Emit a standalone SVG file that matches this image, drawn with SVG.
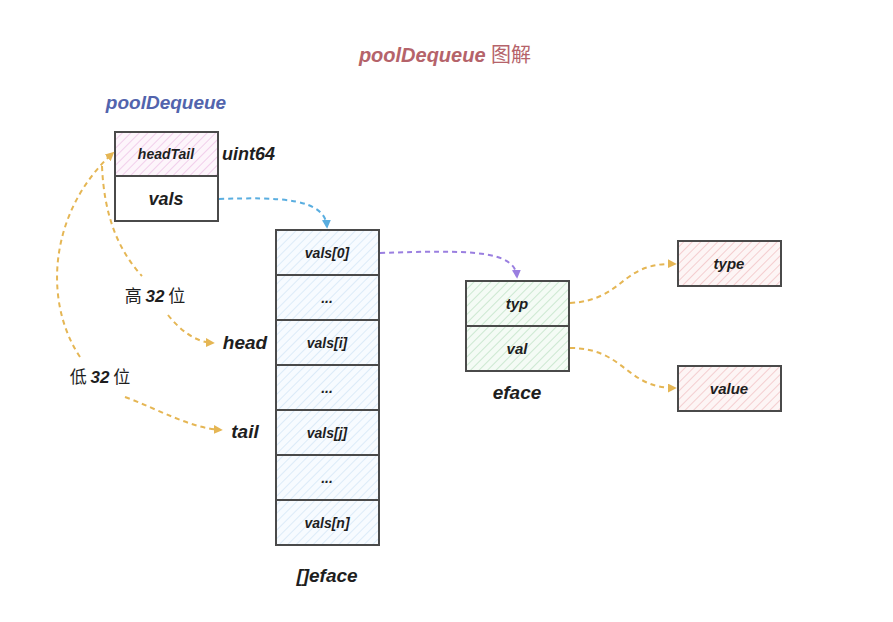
<svg xmlns="http://www.w3.org/2000/svg" width="893" height="622" viewBox="0 0 893 622">
<style>
.box{stroke:#4a4a4a;stroke-width:2}
.t{font-family:"Liberation Sans","Noto Sans CJK SC",sans-serif;font-style:italic;font-weight:bold;fill:#1e1e1e;text-anchor:middle}
.cn{font-family:"Noto Sans CJK SC",sans-serif;font-style:normal;font-weight:normal}
.n{font-family:"Liberation Sans",sans-serif;font-style:italic;font-weight:bold}
.c{fill:none;stroke-width:2;stroke-dasharray:5 4}
.y{stroke:#e5b654}
</style>
<defs>
<pattern id="pk" width="6" height="6" patternUnits="userSpaceOnUse" patternTransform="rotate(45)"><rect width="6" height="6" fill="#fdf5fb"/><line x1="0" y1="0" x2="0" y2="6" stroke="#efc6e7" stroke-width="1.6"/></pattern>
<pattern id="bl" width="6" height="6" patternUnits="userSpaceOnUse" patternTransform="rotate(45)"><rect width="6" height="6" fill="#f7fbff"/><line x1="0" y1="0" x2="0" y2="6" stroke="#d6e8f7" stroke-width="1.6"/></pattern>
<pattern id="gr" width="6" height="6" patternUnits="userSpaceOnUse" patternTransform="rotate(45)"><rect width="6" height="6" fill="#f4fbf5"/><line x1="0" y1="0" x2="0" y2="6" stroke="#c2e4c8" stroke-width="1.6"/></pattern>
<pattern id="rd" width="6" height="6" patternUnits="userSpaceOnUse" patternTransform="rotate(45)"><rect width="6" height="6" fill="#fdf5f5"/><line x1="0" y1="0" x2="0" y2="6" stroke="#f2c5c7" stroke-width="1.6"/></pattern>
<marker id="ay" viewBox="0 0 10 10" refX="8" refY="5" markerWidth="4.5" markerHeight="4.5" orient="auto"><path d="M0,0 L10,5 L0,10 z" fill="#e5b654"/></marker>
<marker id="ab" viewBox="0 0 10 10" refX="8" refY="5" markerWidth="4.5" markerHeight="4.5" orient="auto"><path d="M0,0 L10,5 L0,10 z" fill="#5aaee0"/></marker>
<marker id="ap" viewBox="0 0 10 10" refX="8" refY="5" markerWidth="4.5" markerHeight="4.5" orient="auto"><path d="M0,0 L10,5 L0,10 z" fill="#9a7fe0"/></marker>
</defs>
<rect width="893" height="622" fill="#ffffff"/>
<text class="t" x="445" y="62" font-size="20" style="fill:#b5636a">poolDequeue <tspan class="cn">图解</tspan></text>
<text class="t" x="166" y="109" font-size="19" style="fill:#5264ad">poolDequeue</text>

<g id="poolDequeue">
<rect class="box" x="115" y="132" width="103" height="44" fill="url(#pk)"/>
<text class="t" x="166" y="159" font-size="14">headTail</text>
<rect class="box" x="115" y="176" width="103" height="45" fill="#ffffff"/>
<text class="t" x="166" y="205" font-size="18">vals</text>
<text class="t" x="222" y="160" font-size="18" style="text-anchor:start">uint64</text>
</g>

<g id="array">
<rect class="box" x="276" y="230" width="103" height="45" fill="url(#bl)"/>
<text class="t" x="327" y="258" font-size="14">vals[0]</text>
<rect class="box" x="276" y="275" width="103" height="45" fill="url(#bl)"/>
<text class="t" x="327" y="303" font-size="14">...</text>
<rect class="box" x="276" y="320" width="103" height="45" fill="url(#bl)"/>
<text class="t" x="327" y="348" font-size="14">vals[i]</text>
<rect class="box" x="276" y="365" width="103" height="45" fill="url(#bl)"/>
<text class="t" x="327" y="393" font-size="14">...</text>
<rect class="box" x="276" y="410" width="103" height="45" fill="url(#bl)"/>
<text class="t" x="327" y="438" font-size="14">vals[j]</text>
<rect class="box" x="276" y="455" width="103" height="45" fill="url(#bl)"/>
<text class="t" x="327" y="483" font-size="14">...</text>
<rect class="box" x="276" y="500" width="103" height="45" fill="url(#bl)"/>
<text class="t" x="327" y="528" font-size="14">vals[n]</text>
<text class="t" x="327" y="582" font-size="19">[]eface</text>
</g>

<g id="eface">
<rect class="box" x="466" y="281" width="103" height="45" fill="url(#gr)"/>
<text class="t" x="517" y="309" font-size="15">typ</text>
<rect class="box" x="466" y="326" width="103" height="45" fill="url(#gr)"/>
<text class="t" x="517" y="354" font-size="15">val</text>
<text class="t" x="517" y="399" font-size="19">eface</text>
</g>

<g id="type">
<rect class="box" x="678" y="241" width="103" height="45" fill="url(#rd)"/>
<text class="t" x="729" y="269" font-size="15">type</text>
</g>
<g id="value">
<rect class="box" x="678" y="366" width="103" height="45" fill="url(#rd)"/>
<text class="t" x="729" y="394" font-size="15">value</text>
</g>

<g id="labels">
<text class="t cn" x="155" y="302" font-size="17">高 <tspan class="n">32</tspan> 位</text>
<text class="t cn" x="100" y="383" font-size="17">低 <tspan class="n">32</tspan> 位</text>
<text class="t" x="245" y="349" font-size="19">head</text>
<text class="t" x="245" y="438" font-size="19">tail</text>
</g>

<g id="connectors">
<path class="c" stroke="#5aaee0" d="M219,199 C280,197 325,198 327,227" marker-end="url(#ab)"/>
<path class="c" stroke="#9a7fe0" d="M380,253 C470,250 515,250 517,277" marker-end="url(#ap)"/>
<path class="c y" d="M570,303 C625,300 620,262 675,264" marker-end="url(#ay)"/>
<path class="c y" d="M570,348 C625,348 625,388 675,388" marker-end="url(#ay)"/>
<path class="c y" d="M80,357 C42,300 50,210 113,153" marker-end="url(#ay)"/>
<path class="c y" d="M102,166 C104,215 118,250 142,276"/>
<path class="c y" d="M168,315 C180,330 195,342 213,343" marker-end="url(#ay)"/>
<path class="c y" d="M125,397 C160,410 190,428 221,430" marker-end="url(#ay)"/>
</g>
</svg>
